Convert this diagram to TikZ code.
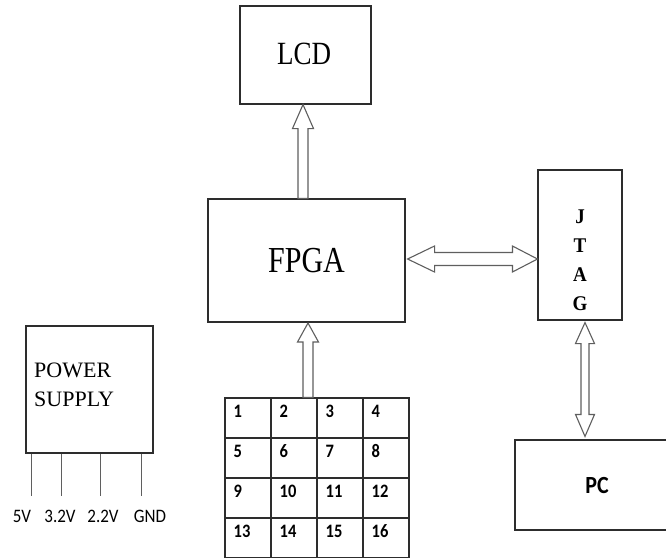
\documentclass[tikz,border=0pt]{standalone}
\usepackage{fontspec}
\setmainfont{Liberation Serif}
\newfontfamily\calibri{Carlito}
\usetikzlibrary{calc}
\definecolor{boxline}{RGB}{45,45,45}
\definecolor{arrline}{RGB}{95,95,95}
\tikzset{
  blk/.style={draw=boxline, line width=1.1pt, rectangle, inner sep=0pt},
  cell/.style={draw=boxline, line width=1.1pt, rectangle, minimum width=46pt, minimum height=40pt, inner sep=0pt},
  barrow/.style={draw=arrline, fill=white, line width=1.1pt, line join=miter},
  pin/.style={draw=arrline, line width=1.1pt},
  num/.style={font=\calibri\bfseries\fontsize{16.5}{16.5}\selectfont, anchor=west, inner sep=0pt},
  volt/.style={font=\calibri\fontsize{17}{17}\selectfont, inner sep=0pt},
}
\begin{document}
\begin{tikzpicture}[x=1pt,y=-1pt]
\useasboundingbox (0,0) rectangle (666,557);
\clip (0,0) rectangle (666,557);
% boxes
\node[blk, minimum width=131pt, minimum height=98pt] (lcd) at (305.5,55) {};
\node at (304,54) (lcdt) {\scalebox{1}[1.2]{\fontsize{27}{27}\selectfont LCD}};
\node[blk, minimum width=197pt, minimum height=123pt] (fpga) at (306.5,260.5) {};
\node at (306.5,261) (fpgat) {\scalebox{1}[1.22]{\fontsize{30}{30}\selectfont FPGA}};
\node[blk, minimum width=84pt, minimum height=150pt] (jtag) at (580,245) {};
\foreach \l/\yy [count=\i] in {J/217,T/246,A/275,G/304}
  \node[font=\bfseries\fontsize{19}{19}\selectfont, inner sep=0pt] (jt\i) at (580,\yy) {\scalebox{1}[1.1]{\l}};
\node[blk, minimum width=165pt, minimum height=90pt] (pc) at (597.5,485) {};
\node[font=\calibri\bfseries\fontsize{22}{22}\selectfont] (pct) at (597,485) {\scalebox{1}[1.12]{PC}};
\node[blk, minimum width=127pt, minimum height=127pt] (pw) at (89.5,389.5) {};
\node[anchor=west, align=left, inner sep=0pt, font=\fontsize{22}{28.5}\selectfont] (pwt) at (34,385) {POWER\\SUPPLY};
% pins
\foreach \dx/\lx/\lab [count=\i] in {6/22/5V,36/60/3.2V,75/103/2.2V,116/150/GND}{
  \draw[pin] ($(pw.south west)+(\dx,0)$) coordinate (p\i) -- ++(0,42);
  \node[volt] (v\i) at (\lx,516) {\scalebox{1}[1.12]{\lab}};
}
% keypad
\foreach \r in {0,...,3}
  \foreach \c in {0,...,3}{
    \pgfmathtruncatemacro{\n}{\r*4+\c+1}
    \node[cell] (c\n) at (248+\c*46, 418+\r*40) {};
    \node[num] (n\n) at ($(c\n.north west)+(9,14)$) {\scalebox{1}[1.15]{\n}};
  }
% arrow FPGA -> LCD
\coordinate (t1) at ($(lcd.south)+(-2.5,0)$);
\coordinate (b1) at (t1 |- fpga.north);
\draw[barrow] ($(b1)+(-5,0)$) -- ($(t1)+(-5,24)$) -- ($(t1)+(-10.5,24)$) -- (t1)
  -- ($(t1)+(10.5,24)$) -- ($(t1)+(5,24)$) -- ($(b1)+(5,0)$) -- cycle;
% arrow keypad -> FPGA
\coordinate (t2) at (308,323);
\coordinate (b2) at (t2 |- c2.north);
\draw[barrow] ($(b2)+(-5,0)$) -- ($(t2)+(-5,19)$) -- ($(t2)+(-10.5,19)$) -- (t2)
  -- ($(t2)+(10.5,19)$) -- ($(t2)+(5,19)$) -- ($(b2)+(5,0)$) -- cycle;
% double arrow FPGA <-> JTAG
\coordinate (l3) at ($(fpga.east)+(2,-1.5)$);
\coordinate (r3) at (l3 -| jtag.west);
\draw[barrow] (l3) -- ($(l3)+(27,-13)$) -- ($(l3)+(27,-6.5)$) -- ($(r3)+(-25,-6.5)$)
  -- ($(r3)+(-25,-13)$) -- (r3) -- ($(r3)+(-25,13)$) -- ($(r3)+(-25,6.5)$)
  -- ($(l3)+(27,6.5)$) -- ($(l3)+(27,13)$) -- cycle;
% double arrow JTAG <-> PC
\coordinate (u4) at ($(jtag.south)+(5,2)$);
\coordinate (d4) at ($(u4 |- pc.north)+(0,-3)$);
\draw[barrow] (u4) -- ($(u4)+(9.5,21)$) -- ($(u4)+(4,21)$) -- ($(d4)+(4,-22)$)
  -- ($(d4)+(9.5,-22)$) -- (d4) -- ($(d4)+(-9.5,-22)$) -- ($(d4)+(-4,-22)$)
  -- ($(u4)+(-4,21)$) -- ($(u4)+(-9.5,21)$) -- cycle;
\end{tikzpicture}
\end{document}
